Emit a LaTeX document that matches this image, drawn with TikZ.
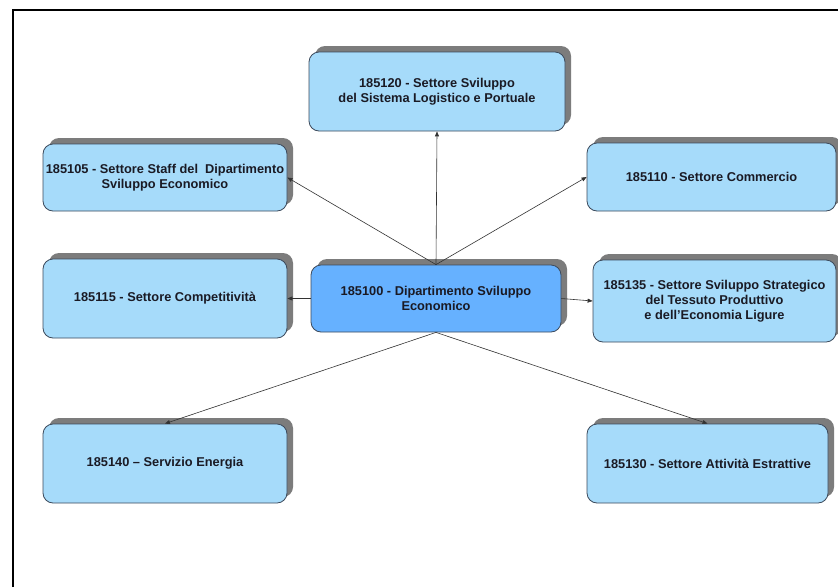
\documentclass[tikz,border=0pt]{standalone}
\usepackage{fontspec}
\setmainfont{Liberation Sans}
\usetikzlibrary{shadows,arrows.meta}
\definecolor{boxfill}{HTML}{A6DBFA}
\definecolor{mainfill}{HTML}{66B1FF}
\definecolor{boxline}{HTML}{3C4A5C}
\definecolor{shadowgray}{HTML}{7C7C7C}
\definecolor{txt}{HTML}{1A1A24}
\begin{document}
\begin{tikzpicture}[x=1pt,y=-1pt,
  orgbox/.style={draw=boxline, line width=0.8pt, fill=boxfill, rounded corners=10pt,
    inner sep=0pt, align=center, text=txt,
    font=\fontsize{12.8}{15}\selectfont\bfseries,
    general shadow={fill=shadowgray, shadow xshift=6pt, shadow yshift=6pt}},
  link/.style={draw=black!80, line width=0.6pt, -{Triangle[length=5pt,width=4pt]}}]
\useasboundingbox (0,0) rectangle (838,587);
\fill[white] (0,0) rectangle (838,587);
% frame
\draw[line width=2.8pt] (13,587) -- (13,10) -- (838,10);
% boxes
\node[orgbox, minimum width=256pt, minimum height=79pt] (b120) at (437,91.5)
  {185120 - Settore Sviluppo\\del Sistema Logistico e Portuale};
\node[orgbox, minimum width=244pt, minimum height=67pt] (b105) at (165,177.5)
  {185105 - Settore Staff del\ \ Dipartimento\\Sviluppo Economico};
\node[orgbox, minimum width=244pt, minimum height=79pt] (b115) at (165,298.5)
  {185115 - Settore Competitività};
\node[orgbox, fill=mainfill, minimum width=250pt, minimum height=67pt] (b100) at (436,298.5)
  {185100 - Dipartimento Sviluppo\\Economico};
\node[orgbox, minimum width=249pt, minimum height=68pt] (b110) at (711.5,177)
  {185110 - Settore Commercio};
\node[orgbox, minimum width=243pt, minimum height=82pt] (b135) at (714.5,301)
  {185135 - Settore Sviluppo Strategico\\del Tessuto Produttivo\\e dell’Economia Ligure};
\node[orgbox, minimum width=244pt, minimum height=79pt] (b140) at (165,463.5)
  {185140 – Servizio Energia};
\node[orgbox, minimum width=241pt, minimum height=79pt] (b130) at (707.5,463.5)
  {185130 - Settore Attività Estrattive};
% connectors
\draw[link] (b100.north) -- (b120.south);
\draw[link] (b100.north) -- (b105.east);
\draw[link] (b100.north) -- (b110.west);
\draw[link] (b100.west) -- (b115.east);
\draw[link] (b100.east) -- (b135.west);
\draw[link] (b100.south) -- (b140.north);
\draw[link] (b100.south) -- (b130.north);
\end{tikzpicture}
\end{document}
